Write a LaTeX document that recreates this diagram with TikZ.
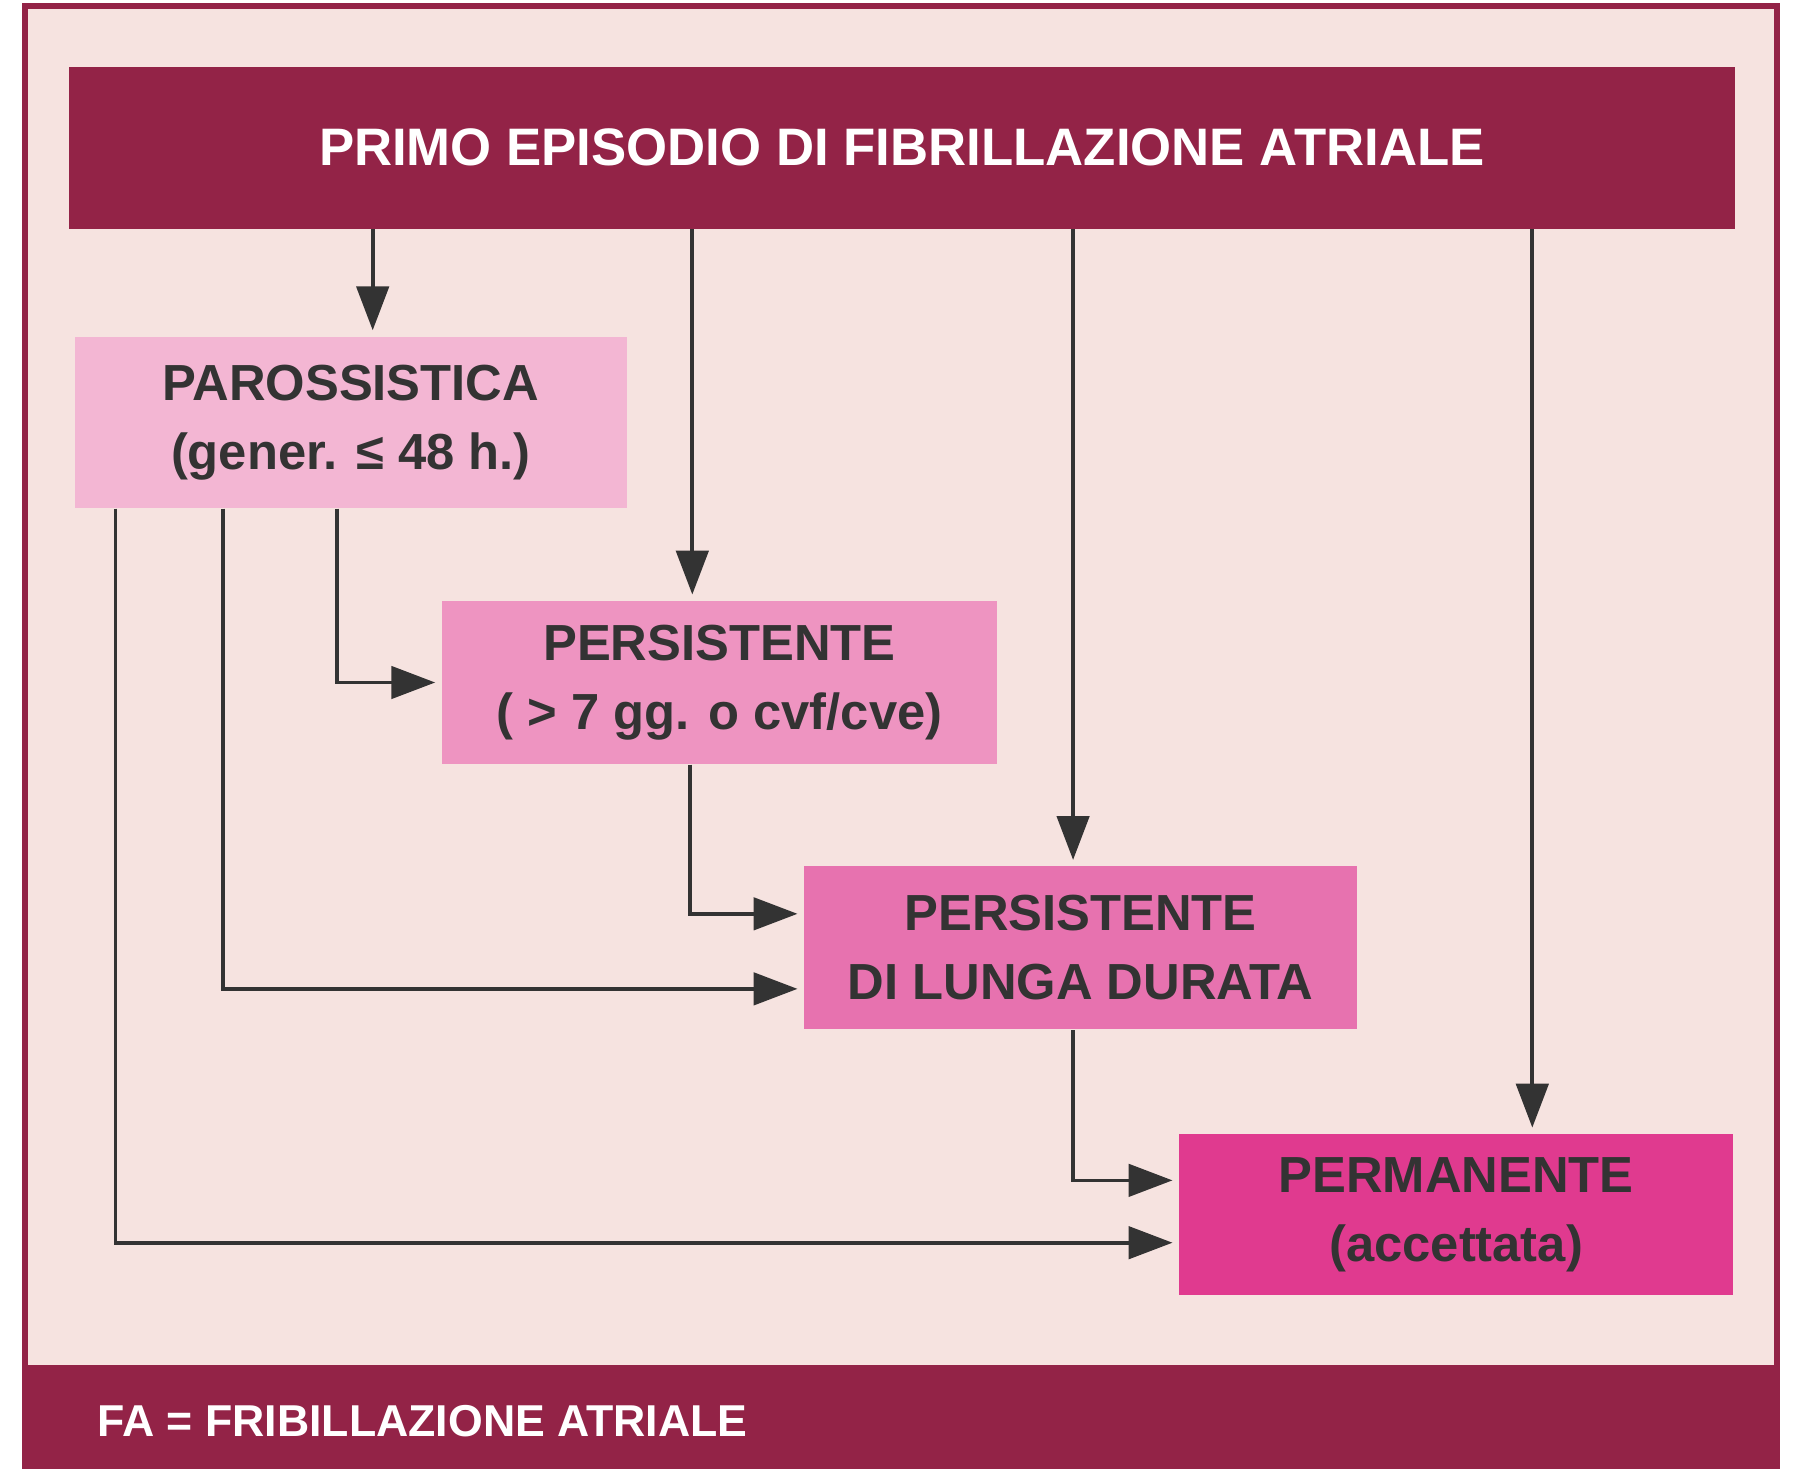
\documentclass[tikz,border=0pt]{standalone}
\usepackage{fontspec}
\setmainfont{Liberation Sans}
\usetikzlibrary{positioning,arrows.meta}
\definecolor{maroon}{HTML}{932347}
\definecolor{bgpink}{HTML}{F6E3E0}
\definecolor{parcol}{HTML}{F3B6D3}
\definecolor{perscol}{HTML}{EE94C1}
\definecolor{lungcol}{HTML}{E772AF}
\definecolor{permcol}{HTML}{E03A8F}
\definecolor{ink}{HTML}{333333}
\tikzset{
  box/.style={inner sep=0pt, text=ink, font=\bfseries\fontsize{12.5}{17}\selectfont, align=center, minimum width=4.8cm, minimum height=1.41cm},
  arr/.style={draw=ink, line width=0.9pt, -{Triangle[length=0.38cm,width=0.28cm]}, shorten >=0.05cm}
}
\begin{document}
\begin{tikzpicture}[x=0.01cm,y=-0.01cm]
\useasboundingbox (0,0) rectangle (1560,1273);
\fill[white] (0,0) rectangle (1560,1273);
		\draw[maroon, line width=1.5pt, fill=bgpink] (22,5) rectangle (1540,1290);
		\fill[maroon] (22,1183) rectangle (1540,1273);
		\node[anchor=west, text=white, font=\bfseries\fontsize{11}{13}\selectfont] (legend) at (72,1232) {FA = FRIBILLAZIONE ATRIALE};
		% main header
		\node[fill=maroon, text=white, font=\bfseries\fontsize{13}{16}\selectfont, minimum width=14.43cm, minimum height=1.4cm, inner sep=0pt] (top) at (781.5,128) {PRIMO EPISODIO DI FIBRILLAZIONE ATRIALE};
		% stages
		\node[box, fill=parcol, minimum width=4.78cm, minimum height=1.48cm] (par) at (304,366) {PAROSSISTICA\\(gener. ≤ 48 h.)};
		\node[box, fill=perscol, minimum width=4.81cm] (pers) at (623.5,591.5) {PERSISTENTE\\( > 7 gg. o cvf/cve)};
		\node[box, fill=lungcol, minimum width=4.79cm] (lunga) at (936.5,821.5) {PERSISTENTE\\DI LUNGA DURATA};
		\node[box, fill=permcol, minimum width=4.8cm, minimum height=1.39cm] (perm) at (1262,1052.5) {PERMANENTE\\(accettata)};
		% from the first episode
		\draw[arr] (top.south -| 323,0) -- (par.north -| 323,0);
		\draw[arr] (top.south -| 600,0) -- (pers.north -| 600,0);
		\draw[arr] (top.south -| 930,0) -- (lunga.north -| 930,0);
		\draw[arr] (top.south -| 1328,0) -- (perm.north -| 1328,0);
		% transitions
		\draw[arr] (par.south -| 292,0) |- (pers.west);
		\draw[arr] (par.south -| 193,0) |- ([yshift=-0.355cm]lunga.west);
		\draw[arr] (par.south -| 100,0) |- ([yshift=-0.245cm]perm.west);
		\draw[arr] (pers.south -| 598,0) |- ([yshift=0.295cm]lunga.west);
		\draw[arr] (lunga.south -| 930,0) |- ([yshift=0.295cm]perm.west);
\end{tikzpicture}
\end{document}
